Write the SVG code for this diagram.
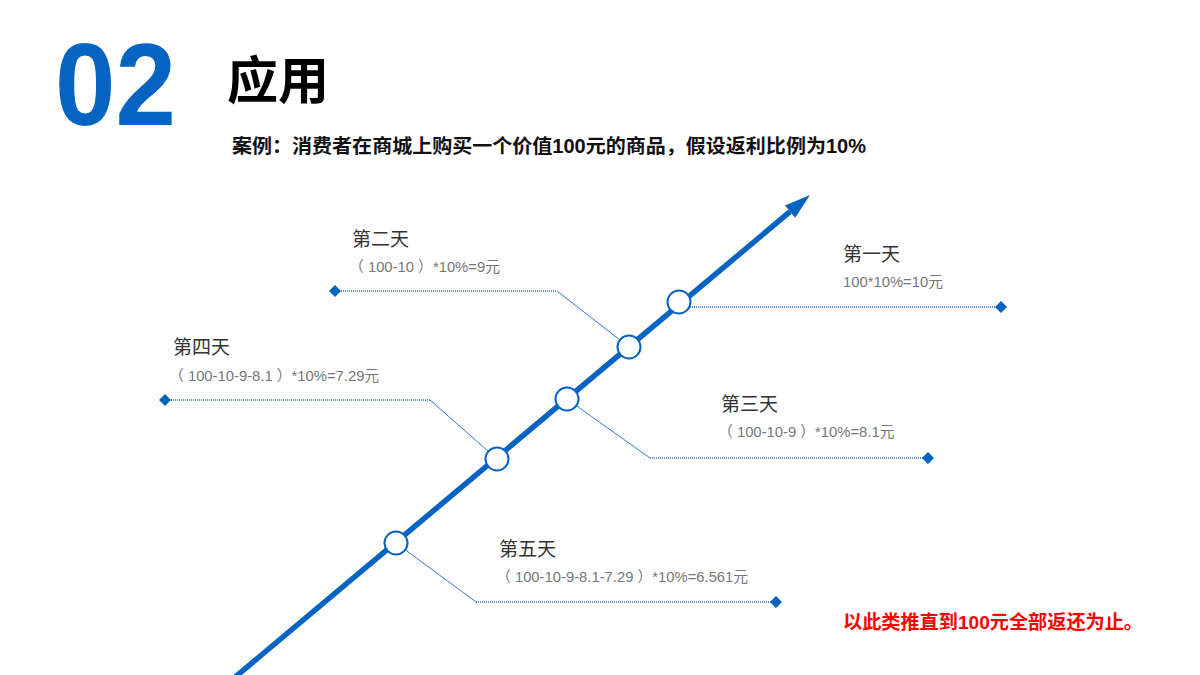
<svg xmlns="http://www.w3.org/2000/svg" width="1200" height="675" viewBox="0 0 1200 675">
<style>
.t{font-family:"Liberation Sans","Noto Sans CJK SC",sans-serif}
.day{font-size:19px;fill:#333333}
.sub{font-size:14.8px;fill:#777777}
.dot{stroke:#2F72C4;stroke-width:1.6;stroke-dasharray:1 1;fill:none}
.sl{stroke:#2F7BD0;stroke-width:1;fill:none}
.node{fill:#ffffff;stroke:#0563C1;stroke-width:2}
.dia{fill:#0563C1}
</style>
<rect width="1200" height="675" fill="#ffffff"/>
<g id="header">
<text class="t" x="55" y="125" font-size="116" font-weight="bold" fill="#0563C1" textLength="121" lengthAdjust="spacingAndGlyphs">02</text>
<text class="t" x="227" y="99" font-size="51" font-weight="bold" fill="#000000">应用</text>
<text class="t" x="232" y="153" font-size="19.5" font-weight="bold" fill="#111111" textLength="634" lengthAdjust="spacingAndGlyphs">案例：消费者在商城上购买一个价值100元的商品，假设返利比例为10%</text>
</g>
<g id="axis">
<line x1="234" y1="678" x2="790" y2="211.7" stroke="#0563C1" stroke-width="5.5"/>
<polygon points="810,195 795.2,217.8 785,205.6" fill="#0563C1"/>
</g>
<g id="connectors">
<line class="dot" x1="690" y1="307" x2="1000" y2="307"/>
<polyline class="dot" points="335,291 557,291"/>
<line class="sl" x1="557" y1="291" x2="620" y2="340"/>
<polyline class="dot" points="165,400 430,400"/>
<line class="sl" x1="430" y1="400" x2="488.4" y2="451.4"/>
<line class="sl" x1="576.4" y1="405.7" x2="650" y2="458"/>
<line class="dot" x1="650" y1="458" x2="928" y2="458"/>
<line class="sl" x1="405.3" y1="549.8" x2="476" y2="602"/>
<line class="dot" x1="476" y1="602" x2="776" y2="602"/>
</g>
<g id="day1">
<circle class="node" cx="679" cy="302" r="11.5"/>
<polygon class="dia" points="1001,301 1007,307 1001,313 995,307"/>
<text class="t day" x="843" y="261">第一天</text>
<text class="t sub" x="843" y="287">100*10%=10元</text>
</g>
<g id="day2">
<circle class="node" cx="629" cy="347" r="11.5"/>
<polygon class="dia" points="335,285 341,291 335,297 329,291"/>
<text class="t day" x="352" y="246">第二天</text>
<text class="t sub" x="349" y="272" xml:space="preserve">（ 100-10 ）*10%=9元</text>
</g>
<g id="day3">
<circle class="node" cx="567" cy="399" r="11.5"/>
<polygon class="dia" points="928,452 934,458 928,464 922,458"/>
<text class="t day" x="721" y="411">第三天</text>
<text class="t sub" x="718" y="437" xml:space="preserve">（ 100-10-9 ）*10%=8.1元</text>
</g>
<g id="day4">
<circle class="node" cx="497" cy="459" r="11.5"/>
<polygon class="dia" points="165,394 171,400 165,406 159,400"/>
<text class="t day" x="173" y="354">第四天</text>
<text class="t sub" x="169" y="381" xml:space="preserve">（ 100-10-9-8.1 ）*10%=7.29元</text>
</g>
<g id="day5">
<circle class="node" cx="396" cy="543" r="11.5"/>
<polygon class="dia" points="776,596 782,602 776,608 770,602"/>
<text class="t day" x="499" y="556">第五天</text>
<text class="t sub" x="496" y="582" xml:space="preserve">（ 100-10-9-8.1-7.29 ）*10%=6.561元</text>
</g>
<g id="note">
<text class="t" x="843" y="629" font-size="19" font-weight="bold" fill="#FF0000" textLength="300" lengthAdjust="spacingAndGlyphs">以此类推直到100元全部返还为止。</text>
</g>
</svg>
